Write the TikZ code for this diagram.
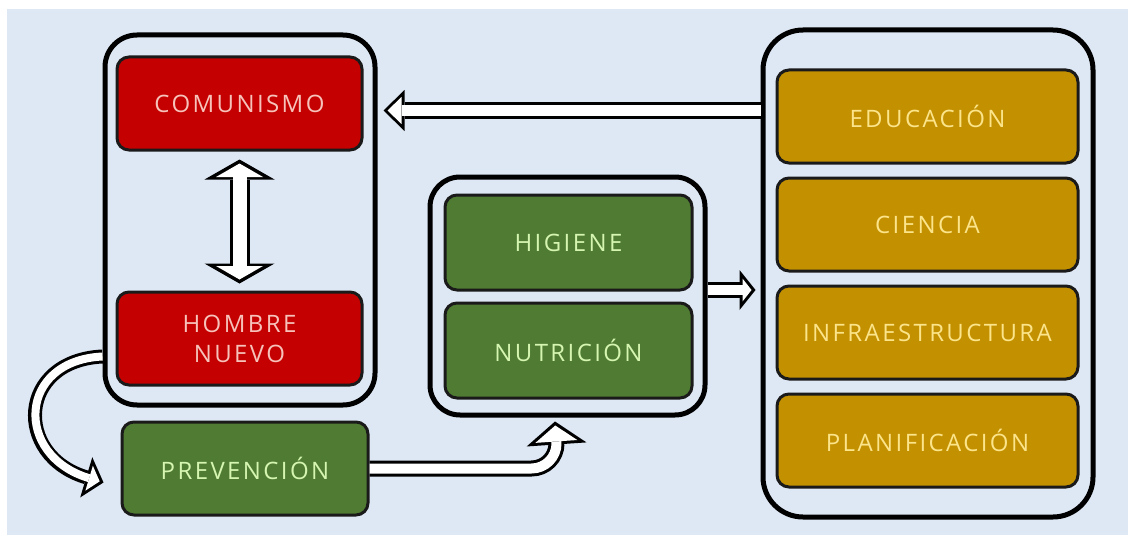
\documentclass[tikz,border=0pt]{standalone}
\usepackage{fontspec}
\newfontfamily\boxfont[LetterSpace=10]{Open Sans}
\usepackage{tikz}
\usetikzlibrary{arrows.meta,positioning,calc}

\definecolor{bgblue}{HTML}{DDE8F4}
\definecolor{boxline}{HTML}{1A1A1A}
\definecolor{redfill}{HTML}{C40000}
\definecolor{redtext}{HTML}{F6C2BA}
\definecolor{greenfill}{HTML}{4F7B32}
\definecolor{greentext}{HTML}{D5F5B0}
\definecolor{goldfill}{HTML}{C39000}
\definecolor{goldtext}{HTML}{FBE48A}

\begin{document}
\begin{tikzpicture}[
    x=1pt, y=-1pt,
    node distance=12pt,
    box/.style={draw=boxline, line width=3pt, rounded corners=12pt, align=center, minimum width=245pt, minimum height=93pt, font=\boxfont\fontsize{24}{30}\selectfont},
    redbox/.style={box, fill=redfill, text=redtext},
    greenbox/.style={box, fill=greenfill, text=greentext},
    goldbox/.style={box, fill=goldfill, text=goldtext, minimum width=301pt},
    frame/.style={draw=black, line width=5pt, rounded corners=32pt},
    % outer width, inner width, outer tip length/width, inner tip length/width
    blockarrow/.style n args={6}{line width=#2, white, line join=round,
        -{Triangle[length=#5, width=#6, line width=0pt]}, shorten >=4pt,
        preaction={draw, black, line width=#1, shorten >=0pt,
            -{Triangle[length=#3, width=#4, line width=0pt]}}},
    twoarrow/.style n args={6}{line width=#2, white,
        {Triangle[length=#5, width=#6, line width=0pt]}-{Triangle[length=#5, width=#6, line width=0pt]},
        shorten >=4pt, shorten <=4pt,
        preaction={draw, black, line width=#1, shorten >=0pt, shorten <=0pt,
            {Triangle[length=#3, width=#4, line width=0pt]}-{Triangle[length=#3, width=#4, line width=0pt]}}}
]
\useasboundingbox (0,0) rectangle (1128,535);
\fill[bgblue] (7,9) rectangle (1128,535);

% containers
\node[frame, minimum width=270pt, minimum height=370pt] (leftc) at (240,220) {};
\node[frame, minimum width=275pt, minimum height=238pt, rounded corners=30pt] (midc) at (567.5,296) {};
\node[frame, minimum width=330pt, minimum height=487pt, rounded corners=40pt] (rightc) at (928,273.5) {};

% boxes
\node[redbox] (com) at (239.5,103.5) {COMUNISMO};
\node[redbox] (hom) at (239.5,338.5) {HOMBRE\\NUEVO};
\node[greenbox, minimum width=246pt] (prev) at (245,468.5) {PREVENCIÓN};
\node[greenbox, minimum width=247pt, minimum height=95pt] (hig) at (568.5,242.5) {HIGIENE};
\node[greenbox, minimum width=247pt, minimum height=95pt, below=10pt of hig] (nut) {NUTRICIÓN};
\node[goldbox] (edu) at (927.5,116.5) {EDUCACIÓN};
\node[goldbox, below=of edu] (cie) {CIENCIA};
\node[goldbox, below=of cie] (inf) {INFRAESTRUCTURA};
\node[goldbox, below=of inf] (pla) {PLANIFICACIÓN};

% arrows
\draw[blockarrow={16pt}{10pt}{21pt}{41pt}{14pt}{27pt}]
    ([yshift=-7pt]rightc.west |- com.east) -- ([xshift=6pt,yshift=-7pt]leftc.east |- com.east);
\draw[blockarrow={16pt}{10pt}{16pt}{40pt}{9pt}{23pt}]
    ([yshift=6pt]midc.east) -- ([xshift=-5pt,yshift=6pt]rightc.west |- midc.east);
\draw[twoarrow={20pt}{14pt}{20pt}{70pt}{13.5pt}{47pt}]
    ([yshift=-8pt]com.south) -- ([yshift=7pt]hom.north);
\coordinate (curvetip) at ([shift={(-17pt,-14pt)}]prev.west);
\draw[blockarrow={14pt}{8pt}{18pt}{42pt}{11pt}{26pt}]
    ([yshift=-18pt]leftc.west |- hom.center) .. controls +(-85pt,-4pt) and +(-90pt,27pt) .. (curvetip);
\coordinate (uptip) at ([shift={(-12.5pt,-4pt)}]midc.south);
\draw[blockarrow={16pt}{10pt}{23pt}{60pt}{16pt}{42pt}]
    (prev.east) -- ++(162pt,0pt) arc[start angle=-90, end angle=0, radius=25pt] -- (uptip);
\end{tikzpicture}
\end{document}
